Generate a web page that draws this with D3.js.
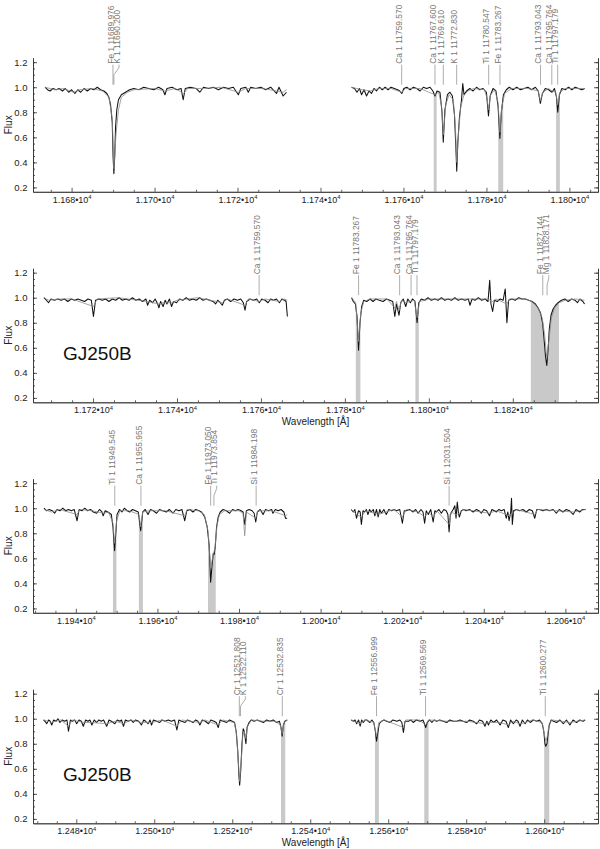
<!DOCTYPE html>
<html><head><meta charset="utf-8">
<script src="https://cdn.jsdelivr.net/npm/d3@7"></script>
<style>body{margin:0;background:#fff}svg{display:block;font-family:"Liberation Sans",Arial,Helvetica,sans-serif}</style>
</head><body><svg id="c" width="600" height="849"></svg>
<script>
// ---------------- DATA ----------------
const xDomains = [[11670.7, 11806.9], [11705.7, 11840.3], [11929.5, 12068.0], [12468.9, 12613.8]];
const yDomain = [0.165, 1.235];
const yTicks = [0.2, 0.4, 0.6, 0.8, 1.0, 1.2];
const xTickStep = 20, xMinorStep = 5, yMinorStep = 0.05;
const starName = "GJ250B";
const xTitle = "Wavelength [Å]", yTitle = "Flux";

// Panel 1, order A (observed / model)
const p1aObs = [[11673.6,1.00],[11674.2,0.98],[11674.8,0.97],[11675.5,0.99],[11676.3,0.98],[11677.0,0.99],[11677.8,0.97],[11678.5,0.99],[11679.3,0.96],[11680.0,0.98],[11680.8,0.95],[11681.5,0.98],[11682.2,0.96],[11683.0,0.99],[11683.8,0.97],[11684.6,0.99],[11685.4,0.98],[11686.2,1.00],[11687.0,0.98],[11687.8,0.97],[11688.5,0.95],[11689.0,0.92],[11689.4,0.86],[11689.8,0.72],[11690.0,0.45],[11690.2,0.31],[11690.4,0.45],[11690.6,0.68],[11690.9,0.82],[11691.3,0.90],[11692.0,0.94],[11693.0,0.96],[11694.0,0.98],[11695.0,0.99],[11696.2,0.98],[11697.4,1.00],[11698.6,0.99],[11699.8,0.98],[11701.0,1.00],[11702.0,0.98],[11702.5,0.94],[11703.0,0.99],[11704.2,1.00],[11705.4,0.98],[11706.4,0.99],[11706.9,0.90],[11707.4,0.99],[11708.6,1.00],[11710.0,0.99],[11710.9,0.96],[11711.8,1.00],[11713.0,0.99],[11714.2,1.00],[11715.4,0.98],[11716.6,1.00],[11717.8,0.99],[11719.0,1.00],[11720.2,0.94],[11720.8,0.99],[11722.0,1.00],[11722.6,0.96],[11723.2,1.00],[11724.4,0.99],[11725.6,1.00],[11726.8,0.98],[11728.0,1.00],[11729.4,0.95],[11730.0,1.00],[11731.0,0.93],[11731.8,0.96]];
const p1aMod = [[11673.6,1.00],[11676.0,0.98],[11678.0,0.99],[11680.5,0.96],[11682.0,0.98],[11685.0,0.99],[11687.5,0.97],[11689.0,0.92],[11689.8,0.75],[11690.2,0.35],[11690.7,0.62],[11691.3,0.82],[11692.0,0.92],[11693.5,0.96],[11695.0,0.98],[11700.0,0.99],[11702.5,0.97],[11705.0,0.99],[11707.0,0.95],[11708.0,0.99],[11712.0,0.99],[11716.0,1.00],[11720.2,0.96],[11722.0,0.99],[11726.0,0.99],[11729.4,0.97],[11731.0,0.96],[11731.8,0.98]];
// Panel 1, order B
const p1bObs = [[11747.5,1.00],[11748.2,0.99],[11748.8,0.96],[11749.4,0.99],[11749.9,0.94],[11750.5,0.98],[11751.1,0.93],[11751.7,0.97],[11752.3,0.95],[11752.9,0.99],[11753.5,0.97],[11754.2,1.00],[11754.9,0.98],[11755.6,1.00],[11756.3,0.98],[11757.0,1.00],[11757.8,0.99],[11758.6,0.98],[11759.1,0.97],[11759.6,0.95],[11760.1,0.99],[11760.8,1.00],[11761.6,0.98],[11762.4,1.00],[11763.2,0.99],[11764.0,0.97],[11764.8,1.00],[11765.6,0.99],[11766.4,1.00],[11767.1,0.97],[11767.6,0.93],[11768.1,0.97],[11768.8,0.96],[11769.3,0.80],[11769.6,0.56],[11770.0,0.82],[11770.6,0.94],[11771.2,0.96],[11771.8,0.93],[11772.3,0.78],[11772.6,0.55],[11772.85,0.33],[11773.1,0.55],[11773.5,0.76],[11774.0,0.90],[11774.3,1.03],[11774.6,0.94],[11775.2,0.97],[11776.0,0.99],[11776.8,0.97],[11777.6,1.00],[11778.4,0.98],[11779.2,0.99],[11780.0,0.96],[11780.5,0.77],[11780.9,0.93],[11781.6,0.99],[11782.3,0.97],[11782.8,0.85],[11783.25,0.59],[11783.6,0.80],[11784.1,0.94],[11784.8,0.98],[11785.5,1.00],[11786.4,0.98],[11787.3,1.00],[11788.2,0.98],[11789.1,0.99],[11790.0,1.00],[11790.9,0.98],[11791.8,1.00],[11792.5,0.97],[11793.0,0.87],[11793.5,0.95],[11794.2,0.99],[11795.0,0.98],[11795.8,0.96],[11796.4,0.99],[11796.9,0.92],[11797.2,0.80],[11797.6,0.94],[11798.2,0.99],[11799.0,0.98],[11799.8,1.00],[11800.6,0.98],[11801.4,1.00],[11802.2,0.99],[11803.0,0.98],[11803.7,0.99]];
const p1bMod = [[11747.5,1.00],[11750.0,0.98],[11752.0,0.97],[11754.0,0.99],[11757.0,0.99],[11759.6,0.96],[11760.5,0.99],[11764.0,0.99],[11767.6,0.94],[11768.5,0.96],[11769.2,0.85],[11769.6,0.62],[11770.2,0.86],[11771.0,0.94],[11772.0,0.90],[11772.5,0.70],[11772.85,0.40],[11773.3,0.65],[11773.8,0.84],[11774.5,0.93],[11775.5,0.97],[11777.0,0.99],[11779.5,0.98],[11780.1,0.92],[11780.5,0.82],[11781.0,0.94],[11782.0,0.98],[11782.8,0.88],[11783.25,0.64],[11783.7,0.84],[11784.4,0.95],[11786.0,0.99],[11790.0,0.99],[11792.5,0.97],[11793.0,0.89],[11793.6,0.96],[11795.0,0.99],[11795.8,0.97],[11796.7,0.96],[11797.2,0.86],[11797.7,0.96],[11799.0,0.99],[11803.7,0.99]];
// Panel 2, order A
const p2aObs = [[11708.3,1.00],[11708.9,0.98],[11709.4,0.96],[11710.0,0.99],[11710.8,0.98],[11711.6,0.99],[11712.4,0.98],[11713.2,0.99],[11714.0,0.97],[11714.8,0.99],[11715.6,0.98],[11716.4,0.99],[11717.2,0.98],[11718.0,0.97],[11718.8,0.99],[11719.6,0.98],[11720.1,0.85],[11720.6,0.98],[11721.4,0.99],[11722.2,0.98],[11723.0,0.99],[11723.8,0.97],[11724.6,0.99],[11725.4,0.98],[11726.2,1.00],[11727.0,0.98],[11727.8,0.99],[11728.6,0.98],[11729.4,1.00],[11730.2,0.98],[11731.0,0.99],[11731.8,0.97],[11732.6,0.99],[11733.0,0.94],[11733.5,0.98],[11734.2,0.96],[11734.8,0.99],[11735.4,0.95],[11735.7,0.92],[11736.1,0.97],[11736.7,0.93],[11737.2,0.98],[11737.6,0.95],[11738.2,0.99],[11738.7,0.93],[11739.2,0.97],[11739.9,0.96],[11740.6,0.99],[11741.4,0.98],[11742.2,1.00],[11743.0,0.98],[11743.8,0.99],[11744.6,0.98],[11745.4,1.00],[11746.2,0.98],[11747.0,0.99],[11747.8,0.98],[11748.6,0.97],[11749.2,0.95],[11749.7,0.98],[11750.3,0.96],[11750.8,0.94],[11751.3,0.98],[11752.0,0.99],[11752.8,0.97],[11753.6,0.99],[11754.4,0.98],[11755.2,0.99],[11755.8,0.96],[11756.2,0.90],[11756.6,0.97],[11757.4,0.99],[11758.2,0.98],[11759.0,0.99],[11759.6,0.96],[11760.2,0.99],[11761.0,0.98],[11761.7,0.96],[11762.3,0.99],[11763.0,0.98],[11763.7,0.99],[11764.4,0.96],[11765.0,0.99],[11765.6,0.98],[11766.0,0.97],[11766.3,0.85]];
const p2aMod = [[11708.3,1.00],[11709.4,0.98],[11712.0,0.99],[11715.0,0.99],[11720.1,0.93],[11721.0,0.99],[11726.0,1.00],[11733.0,0.97],[11735.6,0.95],[11736.7,0.96],[11738.7,0.96],[11740.0,0.98],[11745.0,1.00],[11749.4,0.97],[11750.8,0.96],[11752.0,0.99],[11756.2,0.94],[11757.0,0.99],[11759.6,0.97],[11761.0,0.99],[11764.4,0.97],[11765.5,0.99],[11766.3,0.98]];
// Panel 2, order B
const p2bObs = [[11781.6,1.00],[11782.0,0.97],[11782.5,0.95],[11782.9,0.85],[11783.25,0.58],[11783.6,0.80],[11784.0,0.93],[11784.5,0.98],[11785.2,0.97],[11786.0,0.99],[11786.7,0.97],[11787.4,0.99],[11788.2,0.98],[11789.1,0.97],[11789.9,0.99],[11790.7,0.98],[11791.4,0.97],[11791.9,0.85],[11792.3,0.95],[11792.9,0.86],[11793.3,0.96],[11793.9,0.99],[11794.5,0.93],[11795.0,0.99],[11795.6,0.96],[11796.1,0.99],[11796.7,0.97],[11797.2,0.80],[11797.6,0.96],[11798.2,0.99],[11799.0,0.98],[11799.8,1.00],[11800.6,0.98],[11801.4,0.99],[11802.2,0.98],[11803.0,1.00],[11803.8,0.98],[11804.6,0.99],[11805.4,0.98],[11806.2,1.00],[11807.0,0.98],[11807.8,0.99],[11808.6,0.98],[11809.4,0.99],[11809.8,0.94],[11810.3,0.99],[11811.0,0.98],[11811.8,1.00],[11812.6,0.98],[11813.4,0.99],[11814.1,0.97],[11814.5,1.14],[11814.8,0.95],[11815.2,0.89],[11815.6,0.98],[11816.3,0.97],[11817.0,0.99],[11817.7,0.98],[11818.2,1.07],[11818.6,0.80],[11819.0,0.98],[11819.8,0.99],[11820.6,0.98],[11821.4,1.00],[11822.2,0.99],[11823.0,0.99],[11823.8,0.98],[11824.6,0.97],[11825.4,0.95],[11826.0,0.92],[11826.6,0.88],[11827.1,0.80],[11827.5,0.65],[11827.8,0.53],[11828.1,0.46],[11828.4,0.58],[11828.7,0.75],[11829.1,0.86],[11829.6,0.91],[11830.2,0.94],[11830.8,0.96],[11831.6,0.98],[11832.4,0.99],[11833.2,0.97],[11834.0,0.99],[11834.8,0.98],[11835.4,0.96],[11836.0,0.99],[11836.7,0.97],[11837.1,0.95]];
const p2bMod = [[11781.6,1.00],[11782.6,0.96],[11783.25,0.65],[11783.8,0.88],[11784.5,0.97],[11786.0,0.99],[11790.0,0.99],[11791.9,0.92],[11792.3,0.97],[11792.9,0.90],[11793.5,0.98],[11794.5,0.96],[11795.5,0.97],[11796.5,0.98],[11797.2,0.84],[11797.8,0.97],[11800.0,0.99],[11810.0,0.99],[11814.0,0.99],[11815.2,0.97],[11816.0,0.99],[11818.6,0.95],[11819.2,0.99],[11823.0,0.99],[11824.6,0.97],[11826.0,0.92],[11827.0,0.84],[11827.6,0.70],[11828.1,0.52],[11828.6,0.66],[11829.2,0.84],[11830.0,0.92],[11831.0,0.96],[11832.5,0.98],[11835.0,0.99],[11837.1,0.98]];
// Panel 3, order A
const p3aObs = [[11932.2,1.00],[11932.8,0.98],[11933.5,0.99],[11934.2,0.98],[11934.8,0.96],[11935.4,0.99],[11936.1,0.98],[11936.8,1.00],[11937.5,0.98],[11938.2,0.99],[11938.9,0.98],[11939.6,0.99],[11940.3,0.90],[11940.8,0.99],[11941.5,0.98],[11942.2,1.00],[11942.9,0.98],[11943.6,0.99],[11944.3,0.97],[11945.1,0.96],[11945.8,0.99],[11946.4,0.97],[11946.7,0.94],[11947.2,0.98],[11947.8,0.97],[11948.3,0.96],[11948.7,0.95],[11949.1,0.85],[11949.5,0.66],[11949.8,0.80],[11950.1,0.95],[11950.7,0.99],[11951.3,0.97],[11951.9,1.00],[11952.6,0.98],[11953.2,0.97],[11953.9,0.99],[11954.6,0.98],[11955.3,0.97],[11955.9,0.82],[11956.4,0.97],[11957.0,0.99],[11957.7,0.95],[11958.3,0.99],[11959.0,0.98],[11959.8,0.96],[11960.5,0.99],[11961.3,0.98],[11962.2,0.97],[11962.9,0.99],[11963.8,0.96],[11964.5,0.99],[11965.3,0.98],[11966.0,0.99],[11966.7,0.90],[11967.2,0.98],[11968.0,0.99],[11968.7,0.97],[11969.4,0.99],[11970.2,0.98],[11970.8,0.97],[11971.2,0.95],[11971.6,0.93],[11972.2,0.85],[11972.7,0.70],[11973.05,0.41],[11973.4,0.55],[11973.7,0.64],[11973.9,0.63],[11974.2,0.70],[11974.5,0.85],[11974.9,0.93],[11975.4,0.97],[11976.1,0.99],[11976.9,0.98],[11977.7,0.96],[11978.4,0.99],[11979.1,0.98],[11979.8,0.99],[11980.5,0.98],[11981.0,0.97],[11981.4,0.87],[11981.8,0.98],[11982.5,0.99],[11983.2,0.98],[11983.7,0.96],[11984.1,0.89],[11984.5,0.97],[11985.2,0.99],[11985.9,0.95],[11986.5,0.99],[11987.2,0.98],[11988.0,0.99],[11988.3,0.96],[11988.9,0.99],[11989.6,0.98],[11990.3,0.99],[11991.0,0.97],[11991.4,0.92],[11991.8,0.92]];
const p3aMod = [[11932.2,0.99],[11934.0,0.97],[11936.0,0.99],[11940.3,0.95],[11941.0,0.99],[11944.0,0.98],[11946.7,0.96],[11948.0,0.97],[11949.1,0.88],[11949.5,0.72],[11950.0,0.90],[11950.8,0.98],[11953.0,0.98],[11955.5,0.95],[11955.9,0.85],[11956.4,0.97],[11958.0,0.98],[11962.0,0.98],[11966.7,0.94],[11967.3,0.99],[11970.0,0.98],[11971.5,0.95],[11972.4,0.82],[11973.05,0.52],[11973.6,0.62],[11974.1,0.68],[11974.6,0.86],[11975.2,0.95],[11976.5,0.98],[11980.0,0.98],[11981.0,0.96],[11981.4,0.78],[11981.8,0.97],[11984.1,0.92],[11984.6,0.98],[11988.0,0.98],[11991.4,0.94],[11991.8,0.95]];
// Panel 3, order B
const p3bObs = [[12007.5,0.99],[12008.0,0.97],[12008.4,0.99],[12008.8,0.92],[12009.3,0.98],[12009.7,0.97],[12010.0,0.87],[12010.4,0.98],[12010.8,0.97],[12011.2,0.99],[12011.6,0.95],[12012.0,0.99],[12012.4,0.97],[12012.9,0.99],[12013.3,0.94],[12013.7,0.99],[12014.1,0.93],[12014.5,0.99],[12014.9,0.96],[12015.5,0.99],[12016.1,0.95],[12016.7,0.99],[12017.4,0.98],[12018.0,0.99],[12018.6,0.98],[12019.4,0.99],[12020.05,0.88],[12020.5,0.98],[12021.0,0.98],[12021.8,0.99],[12022.7,0.97],[12023.3,0.99],[12023.9,0.96],[12024.6,0.99],[12025.1,0.97],[12025.5,0.88],[12025.9,0.98],[12026.4,0.95],[12027.0,0.99],[12027.6,0.89],[12028.0,0.98],[12028.4,0.97],[12029.0,0.99],[12029.6,0.96],[12030.2,0.99],[12030.8,0.98],[12031.2,0.95],[12031.5,0.81],[12031.8,0.95],[12032.1,0.97],[12032.5,0.99],[12032.9,1.02],[12033.2,0.92],[12033.5,1.05],[12033.8,0.96],[12034.0,0.93],[12034.5,0.98],[12035.1,0.99],[12035.7,0.98],[12036.5,0.99],[12037.4,0.97],[12038.2,0.99],[12038.8,0.98],[12039.4,0.96],[12040.0,0.99],[12040.7,0.98],[12041.4,0.94],[12042.0,0.99],[12042.6,0.98],[12043.1,0.97],[12043.7,0.99],[12044.3,0.98],[12045.0,0.99],[12045.5,0.92],[12045.9,0.97],[12046.2,0.90],[12046.6,0.97],[12046.8,1.08],[12047.0,0.87],[12047.3,0.98],[12048.0,0.99],[12048.8,0.98],[12049.6,0.99],[12050.4,0.97],[12051.2,0.99],[12051.9,0.98],[12052.5,0.92],[12053.0,0.99],[12053.7,0.99],[12054.5,0.98],[12055.3,0.99],[12056.1,0.98],[12057.0,0.99],[12057.8,0.96],[12058.5,0.99],[12059.4,0.97],[12060.2,0.99],[12061.0,0.98],[12061.9,0.95],[12062.6,0.99],[12063.5,0.97],[12064.2,0.99],[12065.0,0.99]];
const p3bMod = [[12007.5,0.99],[12008.8,0.95],[12010.0,0.93],[12011.0,0.98],[12013.3,0.96],[12014.1,0.95],[12016.0,0.97],[12018.0,0.99],[12020.05,0.93],[12021.0,0.99],[12023.9,0.97],[12025.5,0.93],[12026.4,0.97],[12027.6,0.93],[12028.5,0.98],[12031.5,0.87],[12032.0,0.97],[12033.2,0.95],[12034.0,0.96],[12035.0,0.99],[12039.4,0.97],[12041.4,0.96],[12043.0,0.98],[12045.5,0.95],[12046.2,0.94],[12047.0,0.96],[12048.0,0.99],[12052.5,0.95],[12053.2,0.99],[12058.0,0.98],[12062.0,0.97],[12065.0,0.99]];
// Panel 4, order A
const p4aObs = [[12471.6,0.99],[12472.0,0.98],[12472.4,0.96],[12472.9,0.99],[12473.3,0.98],[12473.7,0.95],[12474.2,0.99],[12474.8,0.98],[12475.3,1.00],[12475.8,0.97],[12476.4,0.99],[12477.0,0.98],[12477.6,0.99],[12478.0,0.90],[12478.5,0.99],[12479.0,0.98],[12479.6,0.99],[12480.1,0.96],[12480.7,0.99],[12481.3,0.98],[12481.8,0.94],[12482.4,0.99],[12483.0,0.98],[12483.5,0.99],[12484.0,0.95],[12484.6,0.99],[12485.2,0.97],[12485.8,0.99],[12486.4,0.98],[12487.0,0.99],[12487.8,0.94],[12488.4,0.99],[12489.0,0.98],[12489.9,0.96],[12490.5,0.99],[12491.2,0.98],[12491.6,0.99],[12492.1,0.94],[12492.6,0.99],[12493.3,0.98],[12494.0,0.99],[12494.6,0.97],[12495.2,0.99],[12496.0,0.98],[12496.7,0.95],[12497.3,0.99],[12497.8,0.98],[12498.4,0.96],[12498.9,0.99],[12499.3,0.95],[12499.8,0.99],[12500.6,0.98],[12501.4,0.97],[12502.0,0.99],[12502.8,0.98],[12503.6,0.99],[12504.4,0.98],[12505.2,0.99],[12505.8,0.91],[12506.3,0.99],[12507.0,0.98],[12507.9,0.97],[12508.5,0.99],[12509.3,0.98],[12510.0,0.97],[12510.6,0.99],[12511.2,0.98],[12511.7,0.95],[12512.3,0.99],[12513.1,0.98],[12513.9,0.96],[12514.5,0.99],[12515.3,0.98],[12515.9,0.97],[12516.4,0.93],[12516.9,0.99],[12517.7,0.98],[12518.6,0.97],[12519.3,0.99],[12520.0,0.98],[12520.6,0.97],[12521.0,0.90],[12521.4,0.75],[12521.7,0.55],[12521.9,0.47],[12522.2,0.60],[12522.5,0.80],[12522.8,0.92],[12523.1,0.90],[12523.5,0.80],[12523.8,0.93],[12524.3,0.97],[12524.9,0.99],[12525.6,0.98],[12526.4,0.99],[12527.2,0.98],[12528.0,0.97],[12528.8,0.99],[12529.7,0.98],[12530.5,0.99],[12531.4,0.97],[12532.1,0.98],[12532.5,0.93],[12532.8,0.86],[12533.1,0.95],[12533.5,0.98],[12534.1,0.99]];
const p4aMod = [[12471.6,0.99],[12473.7,0.97],[12476.0,0.99],[12478.0,0.94],[12479.0,0.99],[12481.8,0.97],[12484.0,0.97],[12487.8,0.96],[12490.0,0.98],[12492.1,0.96],[12494.0,0.99],[12496.7,0.97],[12499.3,0.97],[12502.0,0.99],[12505.8,0.94],[12507.0,0.99],[12511.7,0.97],[12513.0,0.99],[12516.4,0.95],[12517.5,0.99],[12520.5,0.97],[12521.1,0.88],[12521.5,0.68],[12521.9,0.50],[12522.3,0.66],[12522.7,0.87],[12523.1,0.90],[12523.5,0.84],[12523.9,0.94],[12525.0,0.99],[12528.0,0.98],[12531.0,0.98],[12532.3,0.95],[12532.8,0.88],[12533.3,0.97],[12534.1,0.99]];
// Panel 4, order B
const p4bObs = [[12550.5,0.99],[12551.1,0.98],[12551.5,0.99],[12551.9,0.96],[12552.4,0.99],[12552.8,0.94],[12553.2,0.99],[12553.6,0.97],[12554.1,0.99],[12554.5,0.99],[12554.9,0.98],[12555.3,0.97],[12555.8,0.99],[12556.3,0.97],[12556.7,0.90],[12557.0,0.82],[12557.3,0.88],[12557.7,0.96],[12558.3,0.98],[12558.9,0.99],[12559.6,0.98],[12560.5,0.97],[12561.2,0.99],[12562.2,0.98],[12563.0,0.99],[12563.5,0.97],[12563.9,0.89],[12564.3,0.98],[12565.2,0.98],[12565.8,0.99],[12566.4,0.97],[12567.2,0.99],[12568.2,0.98],[12568.9,0.99],[12569.3,0.96],[12569.6,0.93],[12570.0,0.97],[12570.6,0.99],[12571.2,0.97],[12571.8,0.99],[12572.4,0.98],[12573.2,0.99],[12574.1,0.98],[12575.0,0.97],[12575.8,0.99],[12576.7,0.98],[12577.6,0.98],[12578.4,0.99],[12579.2,0.98],[12580.1,0.97],[12580.9,0.99],[12581.8,0.98],[12582.7,0.96],[12583.4,0.99],[12584.2,0.98],[12584.8,0.94],[12585.3,0.98],[12585.7,0.95],[12586.3,0.99],[12587.0,0.97],[12587.8,0.99],[12588.7,0.95],[12589.4,0.99],[12590.2,0.98],[12590.8,0.93],[12591.4,0.99],[12592.1,0.96],[12592.8,0.99],[12593.3,0.98],[12593.8,0.94],[12594.4,0.99],[12595.1,0.96],[12595.7,0.99],[12596.4,0.97],[12597.2,0.99],[12598.1,0.98],[12598.8,0.99],[12599.5,0.96],[12599.9,0.90],[12600.2,0.80],[12600.4,0.78],[12600.7,0.80],[12601.0,0.88],[12601.3,0.95],[12601.8,0.99],[12602.4,0.98],[12603.2,0.97],[12604.0,0.99],[12604.9,0.96],[12605.7,0.99],[12606.6,0.95],[12607.4,0.99],[12608.3,0.97],[12609.1,0.99],[12610.0,0.98],[12610.5,0.99]];
const p4bMod = [[12550.5,0.99],[12552.8,0.96],[12554.0,0.99],[12556.3,0.97],[12557.0,0.86],[12557.6,0.97],[12559.0,0.99],[12563.9,0.93],[12564.5,0.99],[12568.0,0.99],[12569.6,0.95],[12570.3,0.99],[12575.0,0.98],[12580.0,0.98],[12582.7,0.97],[12584.8,0.96],[12585.7,0.97],[12588.7,0.97],[12590.8,0.95],[12592.0,0.98],[12593.8,0.96],[12595.1,0.97],[12597.0,0.99],[12599.5,0.97],[12600.0,0.88],[12600.4,0.82],[12600.8,0.86],[12601.3,0.96],[12602.0,0.99],[12606.6,0.97],[12610.5,0.99]];

// Line identifications: [species, wavelength]
const p1Lines = [["Fe 1",11689.976],["K 1",11690.200],["Ca 1",11759.570],["Ca 1",11767.600],["K 1",11769.610],["K 1",11772.830],["Ti 1",11780.547],["Fe 1",11783.267],["Ca 1",11793.043],["Ca 1",11795.764],["Ti 1",11797.179]];
const p2Lines = [["Ca 1",11759.570],["Fe 1",11783.267],["Ca 1",11793.043],["Ca 1",11795.764],["Ti 1",11797.179],["Fe 1",11827.144],["Mg 1",11828.171]];
const p3Lines = [["Ti 1",11949.545],["Ca 1",11955.955],["Fe 1",11973.050],["Ti 1",11973.854],["Si 1",11984.198],["Si 1",12031.504]];
const p4Lines = [["Cr 1",12521.808],["K 1",12522.110],["Cr 1",12532.835],["Fe 1",12556.999],["Ti 1",12569.569],["Ti 1",12600.277]];

// Shaded integration windows [from, to] in Å
const p1Bands = [[11767.3,11768.0],[11782.85,11784.05],[11796.8,11797.7]];
const p2Bands = [[11782.6,11783.7],[11796.8,11797.6],[11824.3,11831.0]];
const p3Bands = [[11949.1,11949.95],[11955.45,11956.45],[11972.4,11974.3]];
const p4Bands = [[12532.5,12533.6],[12556.6,12557.6],[12569.25,12570.35],[12600.0,12601.3]];

const panels = [
  {segs:[[p1aObs,p1aMod],[p1bObs,p1bMod]], lines:p1Lines, bands:p1Bands, star:false, title:false},
  {segs:[[p2aObs,p2aMod],[p2bObs,p2bMod]], lines:p2Lines, bands:p2Bands, star:true, title:true},
  {segs:[[p3aObs,p3aMod],[p3bObs,p3bMod]], lines:p3Lines, bands:p3Bands, star:false, title:false},
  {segs:[[p4aObs,p4aMod],[p4bObs,p4bMod]], lines:p4Lines, bands:p4Bands, star:true, title:true}
];

// ---------------- LAYOUT ----------------
const X0 = 33, X1 = 598, TOP0 = 57.8, STEP = 210.5, H = 134;
const svg = d3.select("#c");
const FONT = '"Liberation Sans",Arial,Helvetica,sans-serif';

function interp(pts, l) {
  for (let i = 0; i < pts.length - 1; i++) {
    if (pts[i][0] <= l && pts[i+1][0] >= l) {
      const t = (l - pts[i][0]) / (pts[i+1][0] - pts[i][0]);
      return pts[i][1] + t * (pts[i+1][1] - pts[i][1]);
    }
  }
  return 1;
}

panels.forEach((p, i) => {
  const top = TOP0 + STEP * i, bot = top + H;
  const x = d3.scaleLinear().domain(xDomains[i]).range([X0, X1]);
  const y = d3.scaleLinear().domain(yDomain).range([bot, top]);
  const g = svg.append("g");

  // shaded windows under observed spectrum
  p.bands.forEach(([a, b]) => {
    const seg = p.segs.find(s => s[0][0][0] <= a && s[0][s[0].length-1][0] >= b);
    if (!seg) return;
    const obs = seg[0];
    const pts = [[a, interp(obs, a)], ...obs.filter(d => d[0] > a && d[0] < b), [b, interp(obs, b)]];
    g.append("path").datum(pts)
      .attr("d", d3.area().x(d => x(d[0])).y0(bot).y1(d => y(d[1])))
      .attr("fill", "#c9c9c9").attr("stroke", "none");
  });

  // spectra
  const line = d3.line().x(d => x(d[0])).y(d => y(d[1]));
  p.segs.forEach(([obs, mod]) => {
    g.append("path").datum(obs).attr("d", line).attr("fill", "none")
      .attr("stroke", "#111").attr("stroke-width", 1.05).attr("stroke-linejoin", "round");
    g.append("path").datum(mod).attr("d", line).attr("fill", "none")
      .attr("stroke", "#8c8c8c").attr("stroke-width", 0.8);
  });

  // line identifications (push-right layout to avoid overlap)
  const items = p.lines.map(([sp, lam]) => ({text: sp + " " + lam.toFixed(3), lx: x(lam)}))
    .sort((a, b) => a.lx - b.lx);
  let last = -1e9;
  items.forEach(it => { it.tx = Math.max(it.lx, last + 6); last = it.tx; });
  const yLab = y(1.18), yEnd = y(1.02);
  items.forEach(it => {
    const path = Math.abs(it.tx - it.lx) < 0.3
      ? `M${it.lx},${yLab}L${it.lx},${yEnd}`
      : `M${it.tx},${yLab}L${it.tx},${yLab + 3}L${it.lx},${yLab + 10}L${it.lx},${yEnd}`;
    g.append("path").attr("d", path).attr("fill", "none").attr("stroke", "#8a8a8a").attr("stroke-width", 0.7);
    g.append("text").attr("transform", `translate(${it.tx + 0.6},${yLab - 1}) rotate(-90)`)
      .attr("font-size", 8.4).attr("fill", "#777").attr("font-family", FONT).text(it.text);
  });

  // axes
  const [d0, d1] = xDomains[i];
  const majors = d3.range(Math.ceil(d0 / xTickStep) * xTickStep, d1, xTickStep).filter(v => x(v) < X1 - 12);
  const minors = d3.range(Math.ceil(d0 / xMinorStep) * xMinorStep, d1, xMinorStep).filter(v => v % xTickStep !== 0);
  g.append("g").attr("transform", `translate(0,${bot})`)
    .call(d3.axisBottom(x).tickValues(minors).tickSize(-2).tickSizeOuter(0).tickFormat(""));
  const axB = g.append("g").attr("transform", `translate(0,${bot})`)
    .call(d3.axisBottom(x).tickValues(majors).tickSize(-4).tickSizeOuter(0).tickPadding(4.6));
  axB.selectAll(".tick text").each(function(d) {
    const t = d3.select(this);
    t.text(null).attr("font-size", 9).attr("fill", "#222").attr("font-family", FONT);
    t.append("tspan").text((d / 1e4).toFixed(3) + "•10");
    t.append("tspan").attr("dy", -3.4).attr("font-size", 5.8).text("4");
  });
  const yMinor = d3.range(0.2, yDomain[1], yMinorStep).map(v => +v.toFixed(2)).concat([0.2 - yMinorStep]).filter(v => v >= yDomain[0]);
  [[d3.axisLeft, X0], [d3.axisRight, X1]].forEach(([ax, xp], k) => {
    g.append("g").attr("transform", `translate(${xp},0)`)
      .call(ax(y).tickValues(yMinor).tickSize(-2).tickSizeOuter(0).tickFormat(""));
    const a = g.append("g").attr("transform", `translate(${xp},0)`)
      .call(ax(y).tickValues(yTicks).tickSize(-4).tickSizeOuter(0).tickPadding(5.5)
        .tickFormat(k === 0 ? d3.format(".1f") : ""));
    a.selectAll("text").attr("font-size", 9.5).attr("fill", "#222").attr("font-family", FONT);
  });
  g.selectAll(".domain, .tick line").attr("stroke", "#333").attr("stroke-width", 0.8);

  // axis titles
  g.append("text").attr("transform", `translate(12,${(top + bot) / 2}) rotate(-90)`)
    .attr("text-anchor", "middle").attr("font-size", 10).attr("fill", "#222").attr("font-family", FONT).text(yTitle);
  if (p.title) {
    g.append("text").attr("x", (X0 + X1) / 2).attr("y", bot + 22.5)
      .attr("text-anchor", "middle").attr("font-size", 10).attr("fill", "#222").attr("font-family", FONT).text(xTitle);
  }
  if (p.star) {
    g.append("text").attr("x", x(xDomains[i][0]) + 30).attr("y", y(0.5))
      .attr("font-size", 19).attr("fill", "#111").attr("font-family", FONT).text(starName);
  }
});
</script>
</body></html>
